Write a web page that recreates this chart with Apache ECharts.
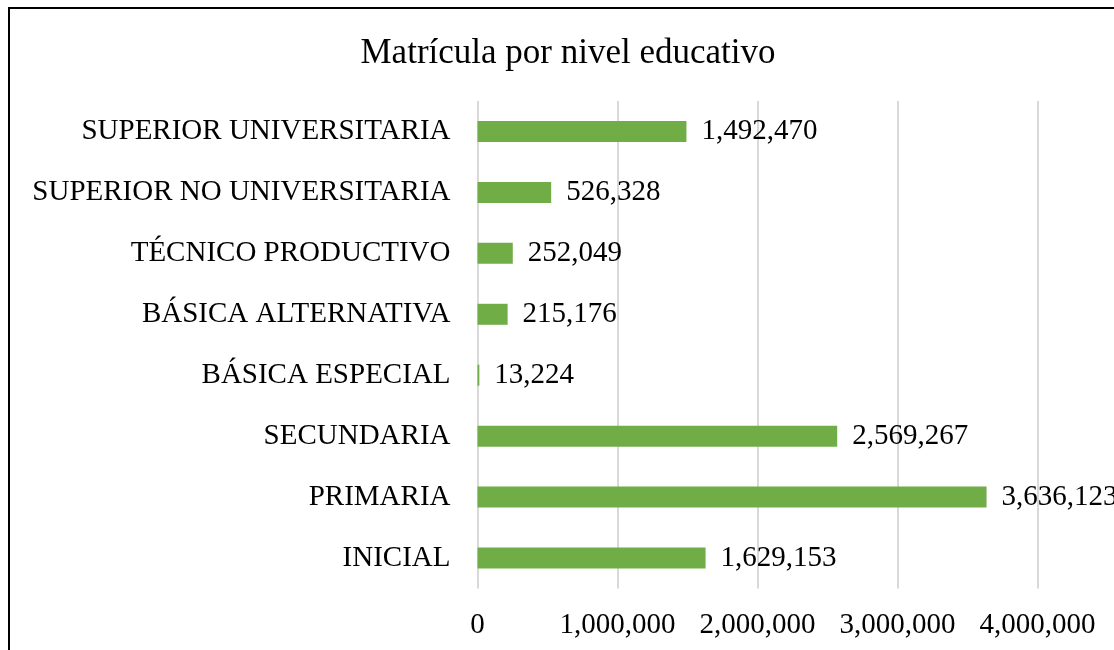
<!DOCTYPE html>
<html>
<head>
<meta charset="utf-8">
<script src="https://cdn.jsdelivr.net/npm/echarts@6/dist/echarts.min.js"></script>
<style>
html,body{margin:0;padding:0;background:#fff;}
#c{width:1114px;height:650px;}
</style>
</head>
<body>
<div id="c"></div>
<script>
const titleText = 'Matrícula por nivel educativo';
const categories = ['INICIAL','PRIMARIA','SECUNDARIA','BÁSICA ESPECIAL','BÁSICA ALTERNATIVA','TÉCNICO PRODUCTIVO','SUPERIOR NO UNIVERSITARIA','SUPERIOR UNIVERSITARIA'];
const values = [1629153, 3636123, 2569267, 13224, 215176, 252049, 526328, 1492470];
const xTicks = [0, 1000000, 2000000, 3000000, 4000000];

const font = '"Liberation Serif", "Times New Roman", serif';
const fmt = v => Number(v).toLocaleString('en-US');

const chart = echarts.init(document.getElementById('c'), null, {renderer: 'canvas'});
chart.setOption({
  backgroundColor: '#ffffff',
  animation: false,
  title: {
    text: titleText,
    left: 563,
    top: 31,
    textAlign: 'center',
    textStyle: {fontFamily: font, fontSize: 35, fontWeight: 'normal', color: '#000'}
  },
  graphic: [{
    type: 'rect',
    shape: {x: 9, y: 8, width: 1300, height: 1000},
    style: {fill: 'none', stroke: '#000', lineWidth: 2},
    silent: true, z: 100
  }],
  grid: {left: 477.5, right: 1114 - 1037.5, top: 101, bottom: 61.5, containLabel: false},
  xAxis: {
    type: 'value',
    min: xTicks[0],
    max: xTicks[xTicks.length - 1],
    interval: xTicks[1] - xTicks[0],
    axisLine: {show: false},
    axisTick: {show: false},
    splitLine: {show: true, lineStyle: {color: '#d9d9d9', width: 2}},
    axisLabel: {fontFamily: font, fontSize: 29, color: '#000', margin: 22, formatter: fmt}
  },
  yAxis: {
    type: 'category',
    data: categories,
    axisLine: {show: false},
    axisTick: {show: false},
    axisLabel: {fontFamily: font, fontSize: 29, color: '#000', margin: 27}
  },
  series: [{
    type: 'bar',
    data: values,
    barWidth: 21,
    itemStyle: {color: '#70ad47'},
    label: {
      show: true,
      position: 'right',
      distance: 15,
      fontFamily: font,
      fontSize: 29,
      color: '#000',
      formatter: p => fmt(p.value)
    }
  }]
});
</script>
</body>
</html>
